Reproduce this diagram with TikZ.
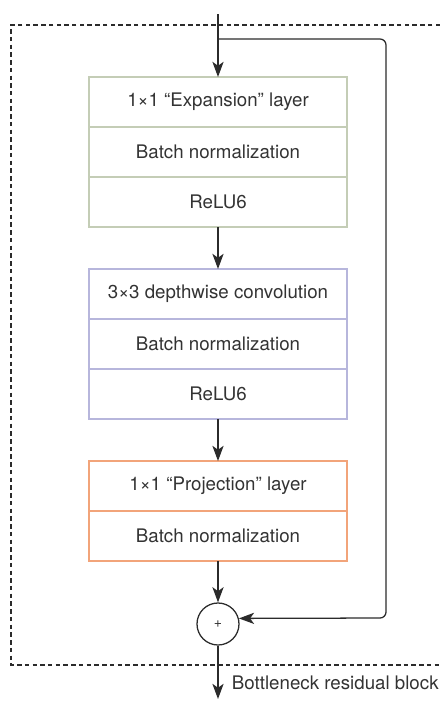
\documentclass[tikz,border=0pt]{standalone}
\usepackage{fontspec}
\setmainfont{TeX Gyre Heros}
\usepackage{xcolor}
\usetikzlibrary{positioning,calc,arrows.meta}
\definecolor{textgray}{HTML}{333333}
\definecolor{linegray}{HTML}{2B2B2B}
\definecolor{expcol}{HTML}{C4CDB6}
\definecolor{dwcol}{HTML}{B7B6DC}
\definecolor{projcol}{HTML}{F2A47A}

\begin{document}
\begin{tikzpicture}[x=0.025cm,y=-0.025cm,
    every node/.style={font=\fontsize{13.3}{16}\selectfont, text=textgray},
    layer/.style={draw=#1, line width=0.8pt, minimum width=6.45cm, minimum height=1.25cm, inner sep=0pt, outer sep=0pt},
    flow/.style={-{Stealth[length=0.38cm,width=0.28cm,inset=0.1cm]}, line width=0.9pt, draw=linegray}]
    \useasboundingbox (0,0) rectangle (440,704);
    % block outline, open on the right
    \draw[dash pattern=on 3.2pt off 2.3pt, line width=0.75pt, draw=linegray] (440,25) -- (11,25) -- (11,665) -- (440,665);

    \coordinate (in) at (218,14);
    \coordinate (split) at (218,39);
    \coordinate (side) at (386,618);
    \coordinate (out) at (218,699);

    % expansion
    \node [layer=expcol] (exp) at (218,102) {1×1 “Expansion” layer};
    \node [layer=expcol, below=0pt of exp] (bn1) {Batch normalization};
    \node [layer=expcol, below=0pt of bn1] (relu1) {ReLU6};

    % depthwise
    \node [layer=dwcol] (dw) at (218,294) {3×3 depthwise convolution};
    \node [layer=dwcol, below=0pt of dw] (bn2) {Batch normalization};
    \node [layer=dwcol, below=0pt of bn2] (relu2) {ReLU6};

    % projection
    \node [layer=projcol] (proj) at (218,486) {1×1 “Projection” layer};
    \node [layer=projcol, below=0pt of proj] (bn3) {Batch normalization};

    \node [draw=linegray, circle, line width=0.9pt, minimum size=1.05cm, inner sep=0pt, font=\fontsize{10}{12}\selectfont] (add) at (218,624) {+};
    \node [anchor=west] (caption) at (227,683) {Bottleneck residual block};

    \draw [flow] (in) -- (exp);
    \draw [flow] (relu1) -- (dw);
    \draw [flow] (relu2) -- (proj);
    \draw [flow] (bn3) -- (add);
    \draw [flow] (add) -- (out);
    \draw [flow, rounded corners=0.15cm] (split) -| (side) -- (add.15);
\end{tikzpicture}
\end{document}
